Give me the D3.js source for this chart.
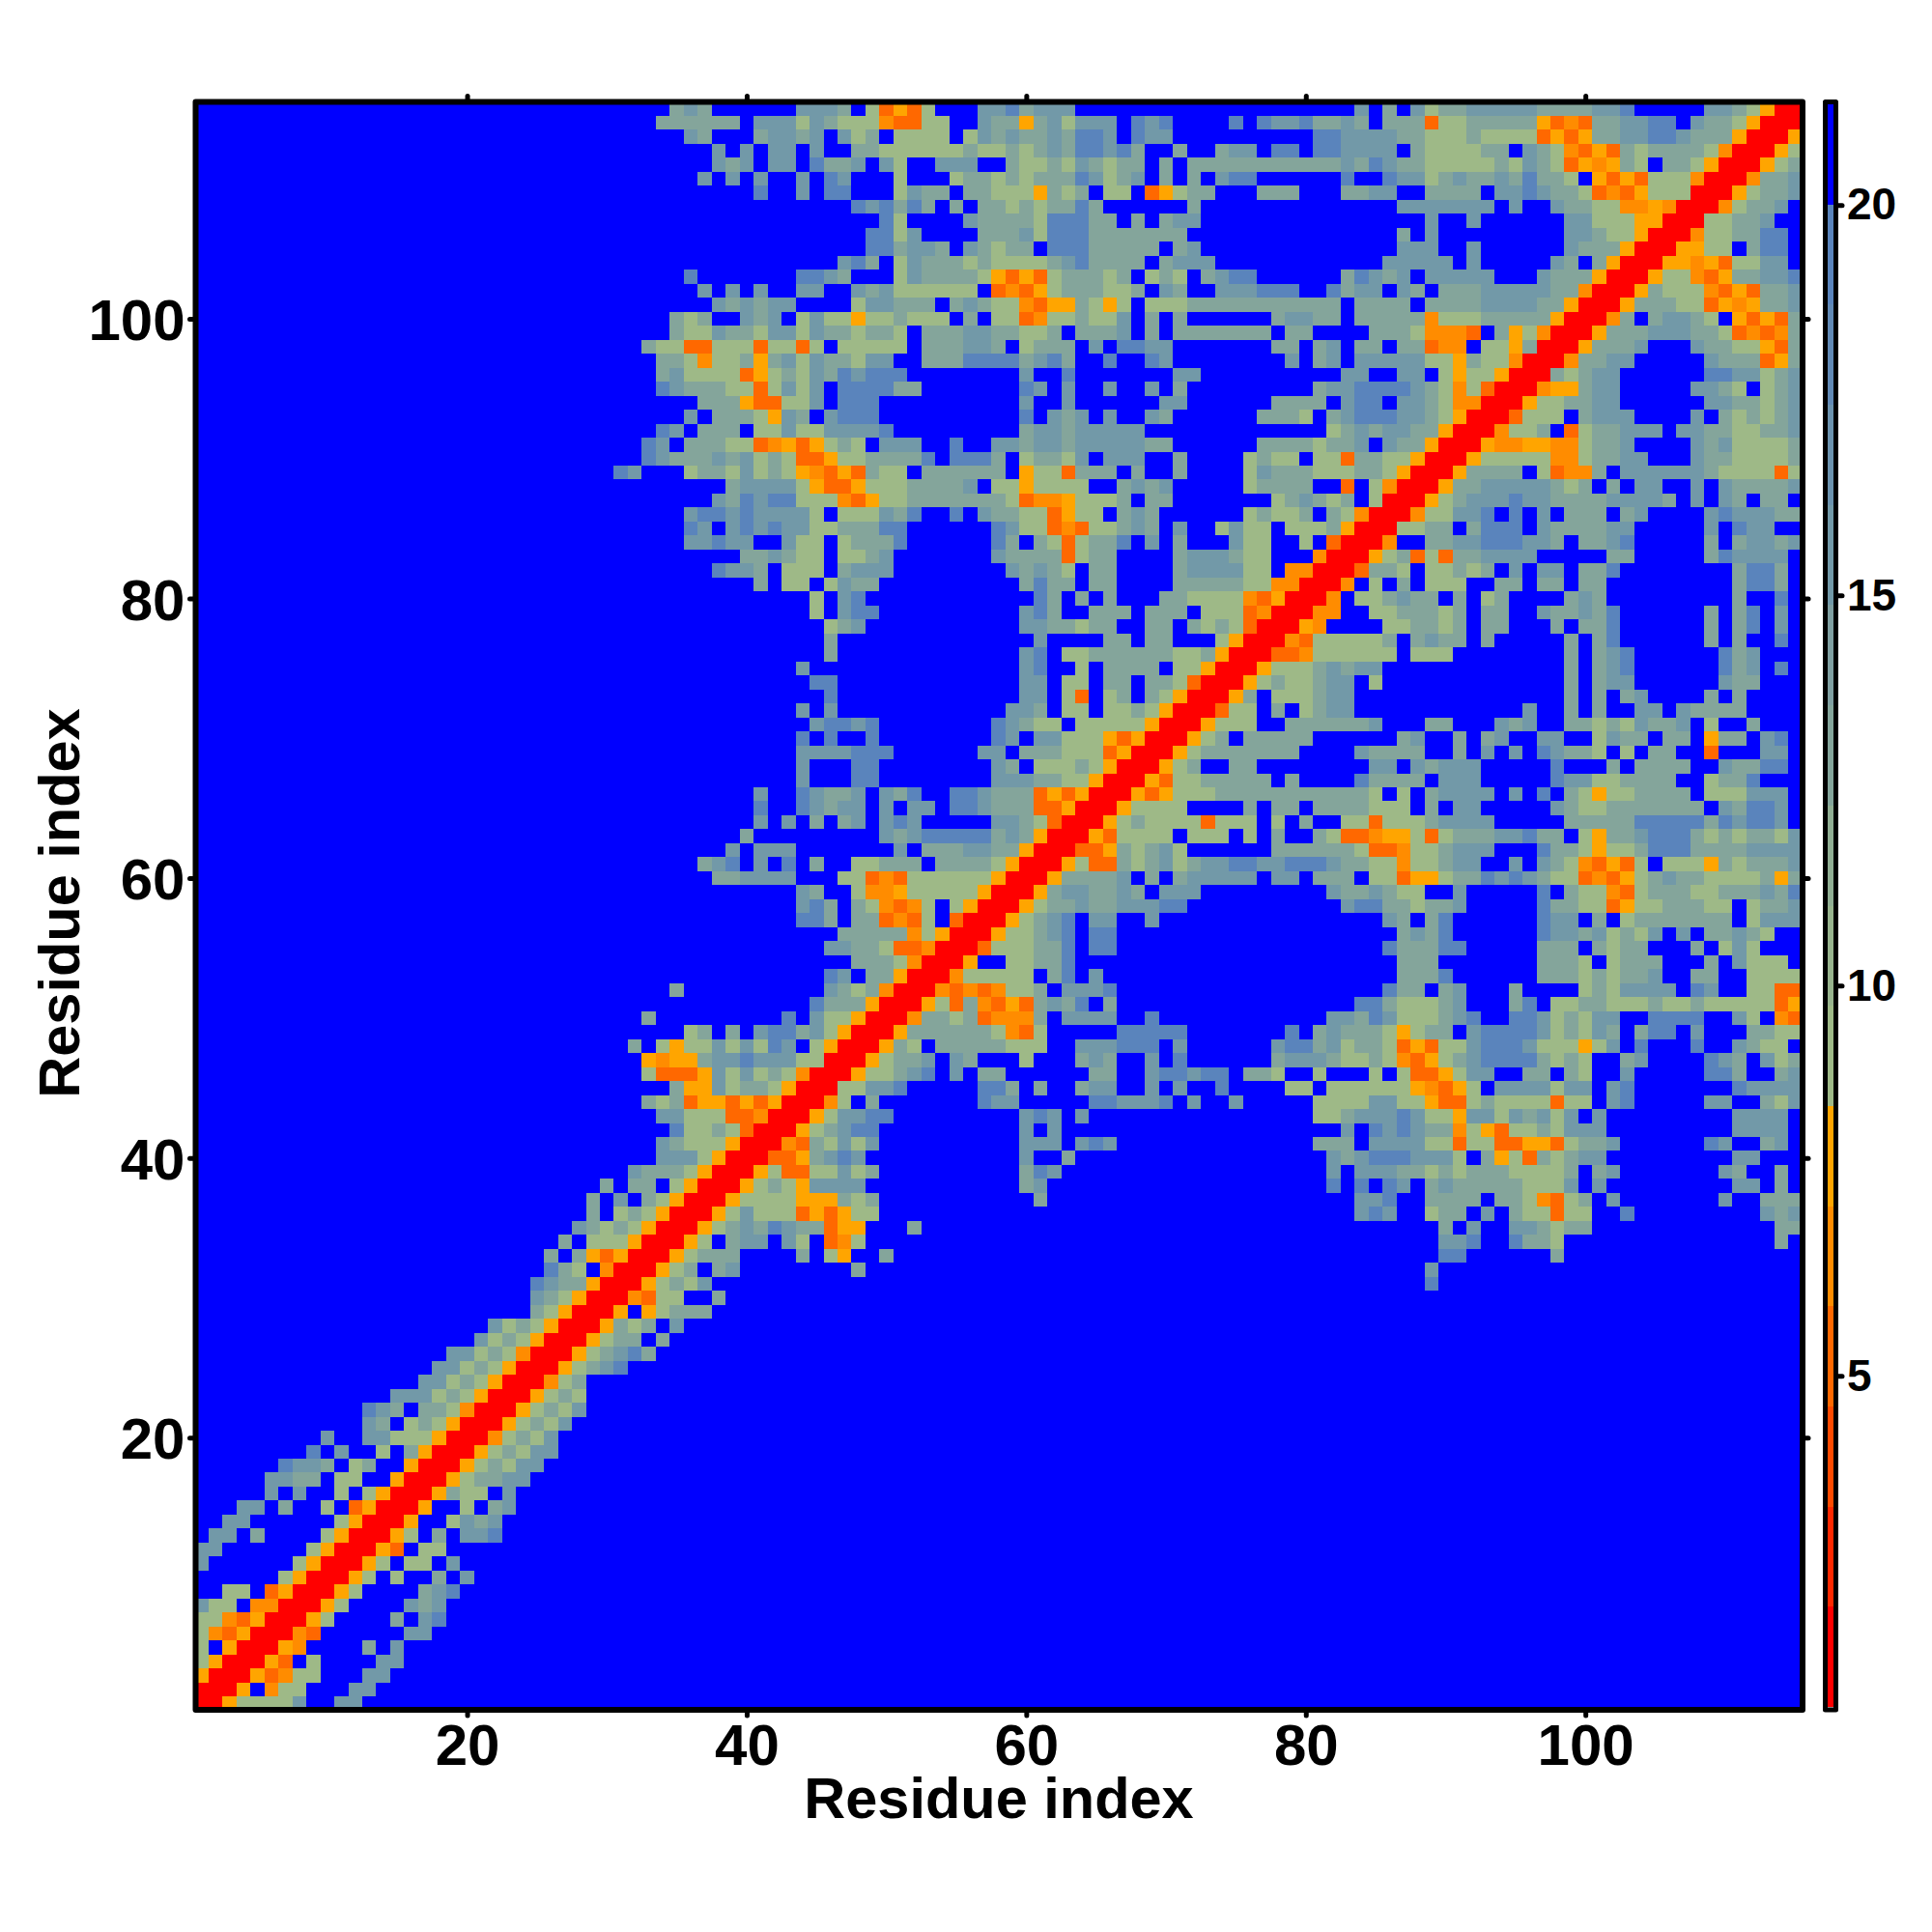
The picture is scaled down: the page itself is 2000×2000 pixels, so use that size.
<!DOCTYPE html>
<html><head><meta charset="utf-8">
<script src="https://cdn.jsdelivr.net/npm/d3@7"></script>
<style>html,body{margin:0;padding:0;background:#fff}svg{display:block}text{font-family:"Liberation Sans",Arial,sans-serif;font-weight:bold;fill:#000}</style>
</head><body><svg id="c" width="2000" height="2000"></svg>
<script>
const residueCount = 115;
const xTicks = [20,40,60,80,100];
const yTicks = [20,40,60,80,100];
const barTicks = [5,10,15,20];
const axisTitle = "Residue index";
const barDomain = [0.76,21.29];
const levelCodes  = ["r","n","d","o","4","3","2","1","."];
const levelValues = [1.4,5.3,6.6,7.9,9.15,13,15.6,19.5,21];
const bandColors = ["#ff0000","#ff2800","#ff4a00","#ff6800","#ff8c00","#ffa500",
  "#9eb987","#97b38d","#90ae93","#84a59b","#7f9fa1","#7299a8","#6b92ae","#6189b5","#5a84bc","#0000ff"];
// Lower triangle, one entry per row (y = 1..114): "startX:codes" segments, unlisted cells are blue.
const lowerRows = [
"2:ro44442 11:22","3:ro.d44 12:22","4:rond44 13:22","5:ron.4 14:22","6:rod 13:3.2","7:rdn 16:22","8:ro4 15:3.21","9:ro4 16:232","10:ro4 17:321","11:ro4.4..3.2",
"12:ro4.44.2","13:ron.44","14:ro4.3.221","15:ro..4232","16:ro..4.32","17:ro344.2","18:ro43322","19:ro43422","20:ro43422","21:rd4342",
"22:ro4342","23:ro4342","24:ro434","25:rd43","26:ro4321","27:ro43213","28:ro433.3","29:ro343.2","30:ro.o4333","31:rdn44 38:3",
"32:ro4342 89:1","33:ro43.32 48:3 89:2","34:ro4333 44:3.4o 50:3 90:11 98:3","35:ro4.322.24.nd4 90:221 95:1334 114:3","36:ro43231233noo 52:3 90:3.2 95:223433 114:33",
"37:ro42444nono44 84:212..433.2.344n44 103:1 113:232",
"38:ro4444ooo343 61:3 84:221..3333.334dn43.2 110:2 113:333",
"39:ro434o2222 60:32 82:1.1.12.32333334442.2 111:22 114:3",
"40:ro4nn44243 60:312 82:2.2223343433344443.32 110:23 114:3",
"41:rnno3212 60:2 63:3 82:2321112224.3o4n34322 111:22",
"42:rdn34242 60:222.212 81:333.222244n44nnoon4332 109:12 113:32",
"43:ro43211 60:2.2 83:2.121233d4on4434222 111:2222",
"44:ro42211 60:212.2 81:4432221244o22423242.2 111:2222",
"45:rd4.3 57:122 65:112221 72:2 75:2 81:44442244onn434444n44.21 109:22 113:342",
"46:r44221 57:113.3 64:322 69:2.2 74:1 79:44.444444odno4.2222422.21 111:12222",
"47:ro44321.2.33 65:33 69:211211 76:334 81:4 85:4.4nno422 96:33.34 103:2 109:113 114:32",
"48:ro4332.23 60:4 64:323 69:2 71:1 78:322234434dno43211113434 103:32 109:123.243",
"49:ro34.33333444 64:222111.2 78:211324334non4421112444o42 104:1 108:1 111:2344",
"50:ro3333334dn4 67:11111 79:1.323334o433 92:21111243423 104:311.2 112:3344",
"51:rd3343nddd3.2222 69:1 82:22312444321 95:11243422 105:1111 111:24 114:dn",
"52:ro4n3dnon3231.3 84:11344432 95:31 98:4433444344344444no",
"53:rdndnd443.2221 86:133.32 95:3 100:4342222 108:12 112:44nn",
"54:rd44444.31.2 87:3331 97:333434332 108:33 112:4444",
"55:ro..44331 87:333 97:3334.4333 109:3.2444",
"56:rn444331.11 86:133311 97:333.3433...3.424",
"57:ro44321.11 87:3231 97:122324342.2.33234",
"58:ro4321.22..2 86:23.31 97:122.3.43333333.4222",
"59:ro43323322211 83:211334332 97:13344no4433344.4332",
"60:ro3223323.222 82:2332344 91:2 97:1.344dn433344333231",
"61:ro33332.3.322222.22.333.44noo4331212344ndno4323344443o3",
"62:ro4nn34324322112211123344d44322 95:2.234dnon4.444o343332",
"63:rnno34324......3333334nnd443222 97:1334o44311133332222",
"64:ron4444.444.4.3..34nndoo4n4333221 97:33.4o33211134343342",
"65:ro434444n444.4.3..44n44432222 99:3333311111312112",
"66:ro4444....3.33.3333444.3.22 98:23443333333.23112",
"67:rono4443333333333 84:34.4.32222.2.1.34o443333.444222",
"68:ron4433333.3 84:13333.222 98:122443333..4331",
"69:ro43..33 85:22.23222 98:1 102:3.3333 110:23311",
"70:ro43333333 84:23333 91:3.2.2.12334.4.33..n 113:22",
"71:ro43.33333 87:32 91:3.32 97:22 101:4233.33.o33.21",
"72:ro444..3333332 89:33 94:232 99:334342332.4 112:3",
"73:rn44.3.4322 96:2 99:3.3..22.23333",
"74:ro3.444322 99:3.3.32 109:3.3",
"75:ro4344322.4 99:3.322 110:233",
"76:ro44432322 99:3.321 110:132 114:1",
"77:rnnd444444.444 99:3.321 110:132",
"78:rdn444443.3233.3.....3.31 109:3 111:3 114:1",
"79:rod....443343.33...3.331 109:3 111:31 114:2",
"80:rdd..4433343.33..233231 109:3 111:31 114:2",
"81:rd.443233.3.43....323 111:3 114:1",
"82:rd.4.3.444..33.33.33 111:3113",
"83:rn334.44343.2.22.331 111:3113",
"84:ro43n4n332222.....33.....312222",
"85:rd..3322111223.3321.....3.32232",
"86:r4433.3111.2333322.....2.122",
"87:rd44221.1.2.333.32....2122233",
"88:ro43222122333322223.2.23.33",
"89:ro3322222343.3.22..2.233332",
"90:ro3333.4ndd3.22222234444n4",
"91:ro44444dd43322...23344443",
"92:roddoodd4332....23244443",
"93:rd443.n433222.223344332",
"94:rn444.3222....2.343432",
"95:ro443322......2233432",
"96:rdoo322.....2234.432",
"97:r34322......1122432",
"98:rd3322.....2333no3",
"99:ro3332...23344on3",
"100:ro333222334ndnd3",
"101:rd3.32234.onon3",
"102:ro33344nodo332",
"103:ro3444dnon332",
"104:ro44dno33221",
"105:roodon4422",
"106:roo44.311",
"107:rd443311",
"108:r44332",
"109:rd4332",
"110:ro4332",
"111:rd332",
"112:ro43",
"113:ro4",
"114:ro",
"115:r"
];

const svg = d3.select("#c");
const inner = {left:205,right:1863,top:108,bottom:1767};
const x = d3.scaleLinear().domain([0.75,115.33]).range([inner.left,inner.right]);
const y = d3.scaleLinear().domain([0.75,115.33]).range([inner.bottom,inner.top]);
const color = d3.scaleQuantize().domain(barDomain).range(bandColors);
const valueOf = c => levelValues[levelCodes.indexOf(c)];

const matrix = [];
for (let i=0;i<residueCount;i++) matrix.push(new Array(residueCount).fill(levelValues[8]));
lowerRows.forEach((row,ri)=>{
  const rowY = ri+1;
  matrix[rowY-1][rowY-1] = levelValues[0];
  row.split(" ").forEach(seg=>{
    const [s,codes] = seg.split(":");
    [...codes].forEach((c,k)=>{
      const colX = +s+k;
      if (colX<=residueCount && valueOf(c)!==undefined){
        matrix[rowY-1][colX-1]=valueOf(c);
        matrix[colX-1][rowY-1]=valueOf(c);
      }
    });
  });
});
matrix[114][114]=levelValues[0];
const cells=[];
matrix.forEach((r,j)=>r.forEach((v,i)=>cells.push({x:i+1,y:j+1,v})));

svg.append("clipPath").attr("id","plot").append("rect")
  .attr("x",inner.left).attr("y",inner.top).attr("width",inner.right-inner.left).attr("height",inner.bottom-inner.top);
svg.append("g").attr("clip-path","url(#plot)").attr("shape-rendering","crispEdges")
  .selectAll("rect").data(cells).join("rect")
  .attr("x",d=>x(d.x-0.5)).attr("y",d=>y(d.y+0.5))
  .attr("width",d=>x(d.x+0.5)-x(d.x-0.5)).attr("height",d=>y(d.y-0.5)-y(d.y+0.5))
  .attr("fill",d=>color(d.v));

function styleAxis(g,size,w){
  g.select(".domain").remove();
  g.selectAll("line").attr("stroke","#000").attr("stroke-width",w).attr("stroke-linecap","round");
  g.selectAll("text").attr("font-size",size).attr("font-family",'"Liberation Sans",Arial,sans-serif').attr("font-weight","bold").attr("fill","#000");
}
const frame={l:202.5,r:1866,t:105.5,b:1770};
const xB=svg.append("g").attr("transform",`translate(0,${frame.b})`).call(d3.axisBottom(x).tickValues(xTicks).tickSize(6).tickPadding(8).tickFormat(d3.format("d")));
styleAxis(xB,60,5);
const xT=svg.append("g").attr("transform",`translate(0,${frame.t})`).call(d3.axisTop(x).tickValues(xTicks).tickSize(6).tickFormat(""));
styleAxis(xT,60,5);
const yL=svg.append("g").attr("transform",`translate(${frame.l},0)`).call(d3.axisLeft(y).tickValues(yTicks).tickSize(6).tickPadding(5).tickFormat(d3.format("d")));
styleAxis(yL,60,5);
yL.selectAll("text").attr("dy",".36em");
const yR=svg.append("g").attr("transform",`translate(${frame.r},0)`).call(d3.axisRight(y).tickValues(yTicks).tickSize(6).tickFormat(""));
styleAxis(yR,60,5);

svg.append("rect").attr("x",frame.l).attr("y",frame.t).attr("width",frame.r-frame.l).attr("height",frame.b-frame.t)
  .attr("fill","none").attr("stroke","#000").attr("stroke-width",6).attr("stroke-linejoin","round");

svg.append("text").attr("x",1034).attr("y",1882).attr("text-anchor","middle").attr("font-size",59.5).text(axisTitle);
svg.append("text").attr("transform","translate(82,935) rotate(-90)").attr("text-anchor","middle").attr("font-size",59.5).text(axisTitle);

const barY=d3.scaleLinear().domain(barDomain).range([1767,108]);
const barX=1892, barW=6;
const bandW=(barDomain[1]-barDomain[0])/bandColors.length;
svg.append("g").attr("shape-rendering","crispEdges").selectAll("rect").data(bandColors).join("rect")
  .attr("x",barX).attr("width",barW)
  .attr("y",(d,i)=>barY(barDomain[0]+bandW*(i+1)))
  .attr("height",(d,i)=>barY(barDomain[0]+bandW*i)-barY(barDomain[0]+bandW*(i+1)))
  .attr("fill",d=>d);
const yC=svg.append("g").attr("transform","translate(1902,0)").call(d3.axisRight(barY).tickValues(barTicks).tickSize(5).tickPadding(5).tickFormat(d3.format("d")));
styleAxis(yC,46,5);
svg.append("rect").attr("x",1889.5).attr("y",frame.t).attr("width",11).attr("height",frame.b-frame.t)
  .attr("fill","none").attr("stroke","#000").attr("stroke-width",5).attr("stroke-linejoin","round");
</script></body></html>
